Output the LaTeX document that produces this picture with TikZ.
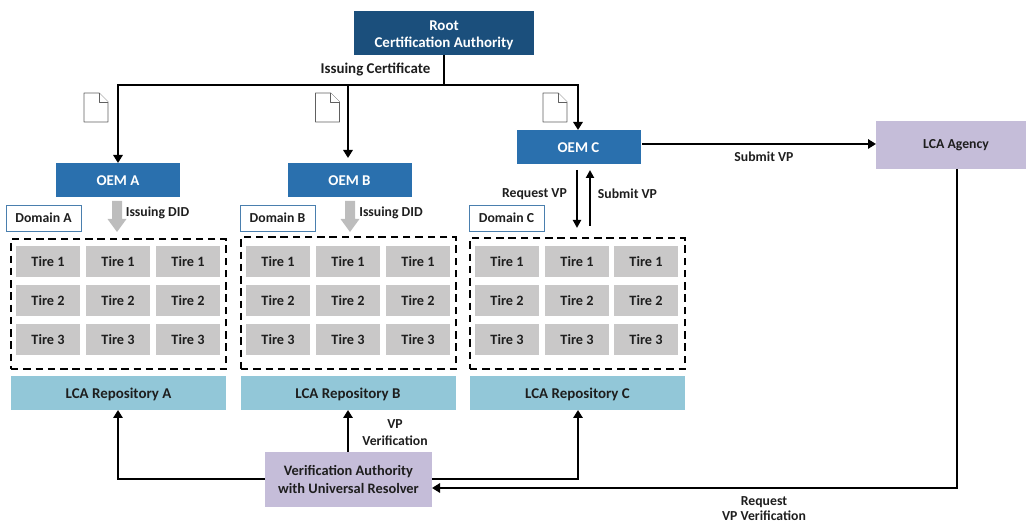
\documentclass[tikz,border=0pt]{standalone}
\usepackage{fontspec}
\setmainfont{Carlito}
\usetikzlibrary{arrows.meta}
\definecolor{rootc}{HTML}{1B4F7C}
\definecolor{oemc}{HTML}{2A70AE}
\definecolor{tirec}{HTML}{C9C8C8}
\definecolor{repoc}{HTML}{92C7D8}
\definecolor{purp}{HTML}{C5BDD9}
\definecolor{domc}{HTML}{4A7FAE}
\definecolor{txt}{HTML}{1E1E1E}
\definecolor{docc}{HTML}{606060}
\definecolor{grayarr}{HTML}{BDBDBD}
\tikzset{
  x=0.75pt,y=-0.75pt,
  sz/.style 2 args={minimum width=#1*0.75pt,minimum height=#2*0.75pt},
  base/.style={inner sep=0pt,outer sep=0pt,font=\fontsize{11.2pt}{13.2pt}\selectfont\bfseries,align=center,text=txt},
  small/.style={font=\fontsize{10.3pt}{12.7pt}\selectfont\bfseries},
  low/.style={text height=8.2pt,text depth=0pt},
  rootbox/.style={base,fill=rootc,text=white,sz={180}{44}},
  oembox/.style={base,low,fill=oemc,text=white,sz={124}{34}},
  dombox/.style={base,small,fill=white,draw=domc,line width=0.7pt,sz={75}{26}},
  tirebox/.style={base,font=\fontsize{10.7pt}{13pt}\selectfont\bfseries,fill=tirec,sz={64}{31}},
  repobox/.style={base,low,fill=repoc,sz={215}{34}},
  purpbox/.style={base,font=\fontsize{10.8pt}{13.2pt}\selectfont\bfseries,fill=purp},
  dashbox/.style={draw=black,line width=1.3pt,dash pattern=on 5.6pt off 3.6pt,inner sep=0pt,outer sep=0pt,sz={215}{130}},
  lbl/.style={base},
  smalllbl/.style={base,small},
  conn/.style={draw=black,line width=2pt,-{Triangle[length=6pt,width=7pt]}},
  line/.style={draw=black,line width=2pt},
  thin arr/.style={draw=black,line width=1.5pt,-{Triangle[length=6pt,width=6pt]}},
  doc/.style={draw=docc,line width=0.7pt,fill=white,line join=round},
  fat/.style={fill=grayarr,draw=none},
}
\begin{document}
\begin{tikzpicture}
\path[use as bounding box] (0,0) rectangle (1026,523);

% main boxes
\node[rootbox] (root) at (444,33) {\rule{0pt}{10.5pt}Root\\Certification Authority};
\node[oembox] (oema) at (118,180) {OEM A};
\node[oembox] (oemb) at (349.5,180) {OEM B};
\node[oembox] (oemc) at (578.5,147) {OEM C};
\node[base,small,fill=purp,sz={150}{48}] (agency) at (951,145) {\hspace*{7.5pt}LCA Agency};

\node[dombox] (doma) at (43.5,218) {Domain A};
\node[dombox] (domb) at (277.5,218) {Domain B};
\node[dombox] (domcc) at (506.5,218) {Domain C};

\node[dashbox] (dasha) at (118.5,304) {};
\node[dashbox,minimum height=132*0.75pt] (dashb) at (348.5,303) {};
\node[dashbox,minimum height=131*0.75pt] (dashc) at (577.5,303.5) {};

% tires
\foreach \dn/\xa/\xb/\xc in {a/48/118/188,b/278/348/418,c/507/577/646}{
  \foreach \col/\cx in {1/\xa,2/\xb,3/\xc}{
    \node[tirebox] (t\dn\col1) at (\cx,261.5) {Tire 1};
    \node[tirebox] (t\dn\col2) at (\cx,300.5) {Tire 2};
    \node[tirebox] (t\dn\col3) at (\cx,339.5) {Tire 3};
  }
}

\node[repobox] (repoa) at (118.5,393) {LCA Repository A};
\node[repobox] (repob) at (348,393) {LCA Repository B};
\node[repobox] (repoc) at (577.5,393) {LCA Repository C};
\node[purpbox,sz={167}{55}] (va) at (348.5,479.5) {Verification Authority\\with Universal Resolver};

% bus
\coordinate (bus) at (444,85);
\coordinate (busa) at (118,85);
\coordinate (busb) at (348,85);
\coordinate (busc) at (578,85);
\draw[line] (root.south) -- (bus);
\draw[line,line cap=rect] (busa) -- (busc);
\draw[conn] (busa) -- (oema.north);
\draw[conn,shorten >=5*0.75pt] (busb) -- (busb |- oemb.north);
\draw[conn] (busc) -- (busc |- oemc.north);

% documents
\foreach \nm/\dx in {doca/84,docb/315.5,docc/543}{
  \draw[doc] (\dx,93) -- ++(15,0) -- ++(9,9) -- ++(0,20) -- ++(-24,0) -- cycle;
  \draw[doc] (\dx+15,93) -- ++(0,9) -- ++(9,0);
}

% fat gray arrows
\foreach \cx in {117,350}{
  \fill[fat] (\cx-5,201) -- (\cx+5,201) -- (\cx+5,219) -- (\cx+9.5,219) -- (\cx,232) -- (\cx-9.5,219) -- (\cx-5,219) -- cycle;
}

% OEM C connectors
\coordinate (reqtop) at (577,170);
\coordinate (reqbot) at (577,228);
\coordinate (subtop) at (590,170);
\coordinate (subbot) at (590,226);
\draw[thin arr] (reqtop) -- (reqbot);
\draw[thin arr] (subbot) -- (subtop);
\coordinate (oemcout) at (642,144);
\draw[conn] (oemcout) -- (oemcout -| agency.west);

% bottom connectors
\coordinate (aleft) at (118,479);
\coordinate (cright) at (578,479);
\coordinate (agdown) at (957,488);
\draw[conn] (va.west |- aleft) -- (aleft) -- (repoa.south -| aleft);
\draw[conn] (va.east |- cright) -- (cright) -- (repoc.south -| cright);
\draw[conn] (va.north -| repob.south) -- (repob.south);
\draw[conn] (agency.south -| agdown) -- (agdown) -- (va.east |- agdown);

% labels
\node[lbl] (lcert) at (375.5,70) {Issuing Certificate};
\node[smalllbl] (ldida) at (157.5,213) {Issuing DID};
\node[smalllbl] (ldidb) at (391,213) {Issuing DID};
\node[smalllbl] (lreq) at (534.5,194) {Request VP};
\node[smalllbl] (lsub) at (627.5,194) {Submit VP};
\node[smalllbl] (lsub2) at (764,156.5) {Submit VP};
\node[smalllbl] (lver) at (395,432.5) {VP\\Verification};
\node[smalllbl,font=\fontsize{10.3pt}{11.6pt}\selectfont\bfseries] (lreqv) at (764,508.5) {Request\\VP Verification};
\end{tikzpicture}
\end{document}
